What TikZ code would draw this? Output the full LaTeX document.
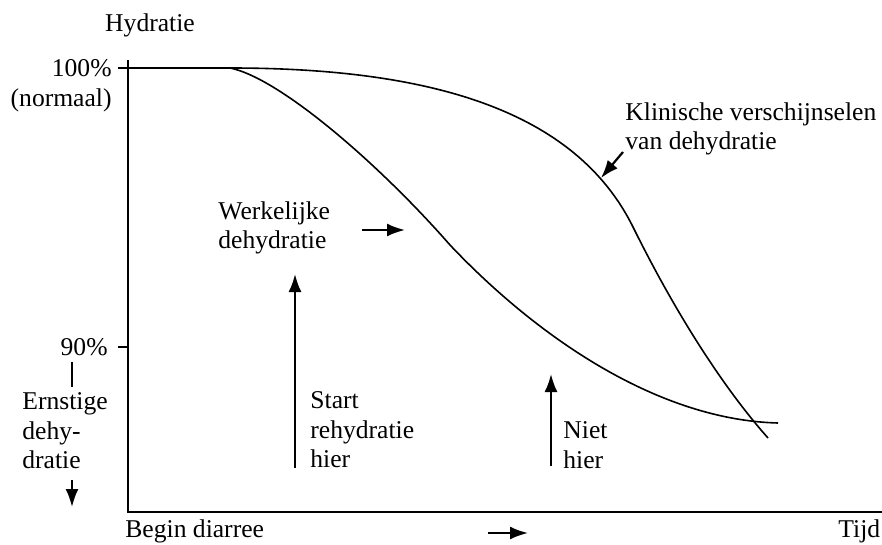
\documentclass[tikz,border=0pt]{standalone}
\usepackage{fontspec}
\setmainfont{Liberation Serif}
\usetikzlibrary{arrows.meta}
\tikzset{
  tekst/.style={inner sep=0pt, font=\fontsize{12.8}{14.8}\selectfont},
  as/.style={line width=1.3pt},
  kromme/.style={line width=0.8pt},
  pijl/.style={line width=1.1pt, -{Latex[length=9pt,width=6.5pt]}}
}
\begin{document}
\begin{tikzpicture}[x=0.5pt, y=-0.5pt]
    \useasboundingbox (0,0) rectangle (882,545);
    % Assen
    \coordinate (top) at (128,60);
    \coordinate (oorsprong) at (128,512);
    \coordinate (eind) at (882,512);
    \draw[as] (top) -- (oorsprong) -- (eind);
    \draw[as] (118,68) -- (134,68);
    \draw[as] (118,347) -- (128,347);
    % Krommen
    \draw[kromme] (128,68) -- (230,68) .. controls (430,68) and (575,110) .. (633,227)
        .. controls (680,322) and (728,393) .. (768,438);
    \draw[kromme] (230,68) .. controls (280,78) and (380,165) .. (450,245)
        .. controls (540,340) and (660,420) .. (778,423);
    % Teksten
    \node[tekst] (hydratie) at (150,25) {Hydratie};
    \node[tekst, anchor=east] (honderd) at (112,68) {100\%};
    \node[tekst, anchor=east] (normaal) at (112,100) {(normaal)};
    \node[tekst, anchor=east] (negentig) at (108,347) {90\%};
    \node[tekst, anchor=west, align=left] (ernstig) at (22,431) {Ernstige\\dehy-\\dratie};
    \node[tekst, anchor=west, align=left] (klinisch) at (625,129) {Klinische verschijnselen\\van dehydratie};
    \node[tekst, anchor=west, align=left] (werkelijk) at (218,228) {Werkelijke\\dehydratie};
    \node[tekst, anchor=west, align=left] (start) at (310,430) {Start\\rehydratie\\hier};
    \node[tekst, anchor=west, align=left] (niet) at (563,445) {Niet\\hier};
    \node[tekst, anchor=west] (begin) at (125,531) {Begin diarree};
    \node[tekst, anchor=west] (tijd) at (838,531) {Tijd};
    % Pijlen
    \coordinate (e1) at (72,362); \coordinate (e2) at (72,387);
    \draw[line width=1.2pt] (e1) -- (e2);
    \coordinate (e3) at (72,480); \coordinate (e4) at (72,507);
    \draw[pijl] (e3) -- (e4);
    \coordinate (w1) at (362,230); \coordinate (w2) at (405,230);
    \draw[pijl] (w1) -- (w2);
    \coordinate (k1) at (623,152); \coordinate (k2) at (601,178);
    \draw[pijl] (k1) -- (k2);
    \coordinate (s1) at (295,468); \coordinate (s2) at (295,274);
    \draw[pijl] (s1) -- (s2);
    \coordinate (n1) at (551,466); \coordinate (n2) at (551,374);
    \draw[pijl] (n1) -- (n2);
    \coordinate (t1) at (488,533); \coordinate (t2) at (528,533);
    \draw[pijl] (t1) -- (t2);
\end{tikzpicture}
\end{document}
